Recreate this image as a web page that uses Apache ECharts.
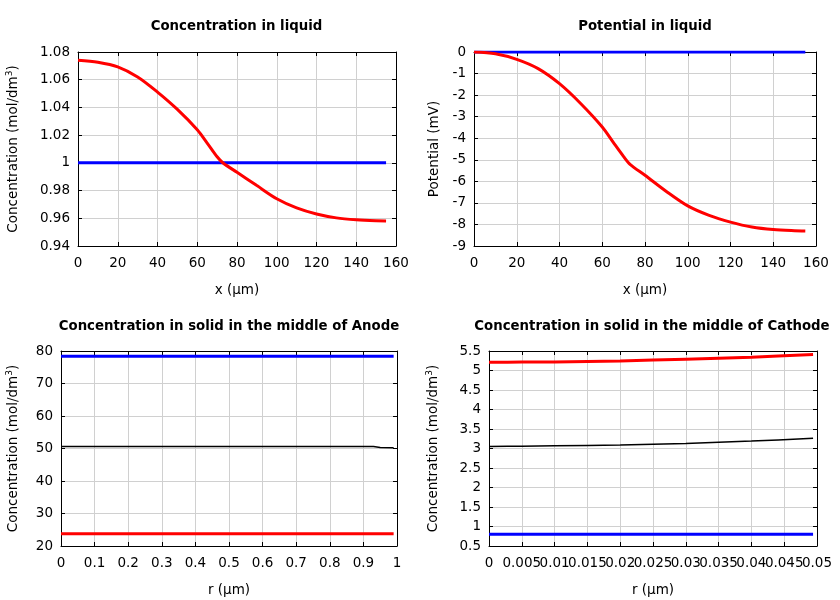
<!DOCTYPE html>
<html><head><meta charset="utf-8">
<script src="https://cdn.jsdelivr.net/npm/echarts@6/dist/echarts.min.js"></script>
<style>html,body{margin:0;padding:0;background:#fff}#c{width:840px;height:600px}</style>
</head><body><div id="c"></div>
<script>
// ---- data ----
const liqX = [0,10,20,30,40,50,60,65,70,73,80,90,100,110,120,130,140,150,155];
const liqConcEnd = [1.0741,1.0726,1.0693,1.0620,1.0511,1.0386,1.0239,1.0143,1.0044,0.9999,0.9932,0.9836,0.9741,0.9675,0.9631,0.9603,0.9589,0.9582,0.9581];
const liqConcStart = [1,1,1,1,1,1,1,1,1,1,1,1,1,1,1,1,1,1,1];
const liqPotEnd = [0,-0.08,-0.34,-0.77,-1.47,-2.40,-3.48,-4.17,-4.85,-5.21,-5.72,-6.47,-7.14,-7.58,-7.89,-8.12,-8.24,-8.29,-8.30];
const liqPotStart = [0,0,0,0,0,0,0,0,0,0,0,0,0,0,0,0,0,0,0];

const anodeR = [0,0.93,0.95,0.99];
const anodeStart = [78.4,78.4,78.4,78.4];
const anodeMid = [50.6,50.6,50.3,50.2];
const anodeEnd = [23.8,23.8,23.8,23.8];

const cathR = [0,0.005,0.01,0.02,0.03,0.04,0.0494];
const cathStart = [0.8,0.8,0.8,0.8,0.8,0.8,0.8];
const cathMid = [3.05,3.06,3.07,3.09,3.13,3.19,3.26];
const cathEnd = [5.21,5.215,5.22,5.245,5.29,5.34,5.41];

const titles = ['Concentration in liquid','Potential in liquid','Concentration in solid in the middle of Anode','Concentration in solid in the middle of Cathode'];
const xNames = ['x (µm)','x (µm)','r (µm)','r (µm)'];
const yNames = ['Concentration (mol/dm{sup|3})','Potential (mV)','Concentration (mol/dm{sup|3})','Concentration (mol/dm{sup|3})'];
const xRanges = [[0,160,20],[0,160,20],[0,1,0.1],[0,0.05,0.005]];
const yRanges = [[0.94,1.08,0.02],[-9,0,1],[20,80,10],[0.5,5.5,0.5]];

// ---- layout ----
const FONT = 'DejaVu Sans';
const TICK_FS = 13.5;
const grids = [
  {left:78, top:52, width:318, height:194},
  {left:474, top:52, width:342, height:194},
  {left:61, top:351, width:336, height:195},
  {left:489, top:351, width:328, height:195}
];
const yNameGaps = [57,33,40,48];
const titlePos = [[236.5,20.5],[645,20.5],[229,320.5],[652,320.5]];

const xAxis = [], yAxis = [];
const axisIdx = [];
grids.forEach((g,i)=>{
  const [xmin,xmax,xint] = xRanges[i];
  const [ymin,ymax,yint] = yRanges[i];
  axisIdx.push({x:xAxis.length, y:yAxis.length});
  xAxis.push({type:'value',gridIndex:i,min:xmin,max:xmax,interval:xint,position:'bottom',
    name:xNames[i],nameLocation:'middle',nameGap:37,
    nameTextStyle:{fontFamily:FONT,fontSize:13.5,color:'#000'},
    axisLine:{show:true,onZero:false,lineStyle:{color:'#000',width:1}},
    axisTick:{show:true,inside:true,length:4,lineStyle:{color:'#000'}},
    axisLabel:{fontFamily:FONT,fontSize:TICK_FS,color:'#000',margin:10,hideOverlap:false,showMinLabel:true,
      showMaxLabel: i===3 ? false : true},
    splitLine:{show:true,lineStyle:{color:'#d0d0d0',width:1}}});
  xAxis.push({type:'value',gridIndex:i,min:xmin,max:xmax,interval:xint,position:'top',
    axisLine:{show:true,onZero:false,lineStyle:{color:'#000',width:1}},
    axisTick:{show:true,inside:true,length:4,lineStyle:{color:'#000'}},
    axisLabel:{show:false},splitLine:{show:false}});
  if(i===3){
    // extra bottom axis carrying only the last tick label, so every label is printed
    xAxis.push({type:'value',gridIndex:i,min:xmin,max:xmax,interval:xint,position:'bottom',offset:0,
      axisLine:{show:false},axisTick:{show:false},splitLine:{show:false},
      axisLabel:{fontFamily:FONT,fontSize:TICK_FS,color:'#000',margin:10,hideOverlap:false,
        showMinLabel:false,showMaxLabel:true,
        formatter:(v)=> Math.abs(v-xmax)<1e-9 ? String(xmax) : ''}});
  }
  yAxis.push({type:'value',gridIndex:i,min:ymin,max:ymax,interval:yint,position:'left',
    name:yNames[i],nameLocation:'middle',nameGap:yNameGaps[i],nameRotate:90,
    nameTextStyle:{fontFamily:FONT,fontSize:13.5,color:'#000',
      rich:{sup:{fontFamily:FONT,fontSize:9,color:'#000',verticalAlign:'top',lineHeight:16}}},
    axisLine:{show:true,onZero:false,lineStyle:{color:'#000',width:1}},
    axisTick:{show:true,inside:true,length:4,lineStyle:{color:'#000'}},
    axisLabel:{fontFamily:FONT,fontSize:TICK_FS,color:'#000',margin:8,showMinLabel:true,showMaxLabel:true},
    splitLine:{show:true,lineStyle:{color:'#d0d0d0',width:1}}});
  yAxis.push({type:'value',gridIndex:i,min:ymin,max:ymax,interval:yint,position:'right',
    axisLine:{show:true,onZero:false,lineStyle:{color:'#000',width:1}},
    axisTick:{show:true,inside:true,length:4,lineStyle:{color:'#000'}},
    axisLabel:{show:false},splitLine:{show:false}});
});

function pairs(xs, ys){ return xs.map((x,k)=>[x,ys[k]]); }
function line(i, xs, ys, color, width, smooth){
  return {type:'line',xAxisIndex:axisIdx[i].x,yAxisIndex:axisIdx[i].y,data:pairs(xs,ys),showSymbol:false,symbol:'none',
    smooth:smooth,lineStyle:{color:color,width:width},animation:false,z:3};
}

const series = [
  line(0, liqX, liqConcStart, '#0000ff', 3, false),
  line(0, liqX, liqConcEnd, '#ff0000', 3, 0.3),
  line(1, liqX, liqPotStart, '#0000ff', 3, false),
  line(1, liqX, liqPotEnd, '#ff0000', 3, 0.3),
  line(2, anodeR, anodeStart, '#0000ff', 3, false),
  line(2, anodeR, anodeMid, '#000000', 1.5, false),
  line(2, anodeR, anodeEnd, '#ff0000', 3, false),
  line(3, cathR, cathStart, '#0000ff', 3, false),
  line(3, cathR, cathMid, '#000000', 1.5, 0.3),
  line(3, cathR, cathEnd, '#ff0000', 3, 0.3)
];

const title = titles.map((t,i)=>({text:t,left:titlePos[i][0],top:titlePos[i][1],textAlign:'center',padding:0,
  textStyle:{fontFamily:FONT,fontSize:13.3,fontWeight:'bold',color:'#000'}}));

const chart = echarts.init(document.getElementById('c'),null,{renderer:'canvas'});
chart.setOption({animation:false,backgroundColor:'#fff',title:title,
  grid:grids.map(g=>Object.assign({containLabel:false},g)),xAxis:xAxis,yAxis:yAxis,series:series});
</script></body></html>
